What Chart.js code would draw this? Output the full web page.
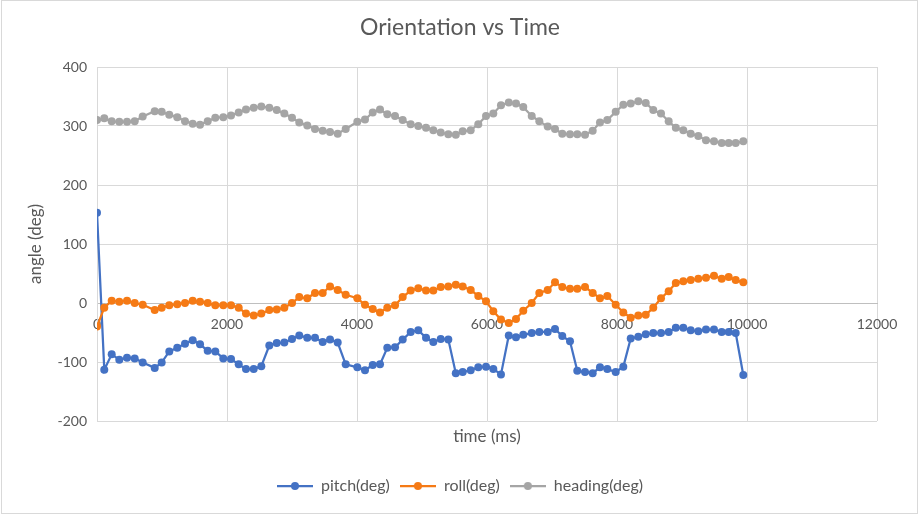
<!DOCTYPE html>
<html>
<head>
<meta charset="utf-8">
<script src="https://cdn.jsdelivr.net/npm/chart.js@4.4.0/dist/chart.umd.min.js"></script>
<style>
html,body{margin:0;padding:0;background:#fff;}
#wrap{width:920px;height:515px;position:relative;}
</style>
</head>
<body>
<div id="wrap"><canvas id="c"></canvas></div>
<script>
// ---- data ----
const timeMs = [0,112,226,343,462,580,703,888,995,1112,
  1235,1354,1472,1585,1703,1820,1943,2062,2180,2292,
  2411,2528,2651,2765,2882,3000,3112,3235,3354,3472,
  3585,3703,3826,4005,4123,4242,4354,4466,4585,4703,
  4826,4943,5062,5174,5288,5405,5520,5626,5749,5866,
  5985,6097,6215,6335,6446,6558,6688,6805,6934,7046,
  7158,7277,7389,7508,7626,7738,7851,7980,8097,8211,
  8328,8442,8558,8677,8795,8905,9020,9134,9251,9369,
  9492,9611,9718,9826,9943];
const pitchDeg = [153,-113,-87,-96,-93,-94,-101,-110,-101,-82,
  -76,-69,-63,-70,-81,-82,-94,-95,-104,-112,
  -112,-107,-72,-68,-67,-61,-55,-59,-59,-66,
  -62,-67,-104,-109,-114,-105,-104,-76,-75,-62,
  -49,-46,-59,-66,-61,-62,-119,-117,-114,-109,
  -108,-112,-121,-55,-58,-54,-51,-49,-49,-44,
  -56,-65,-115,-117,-119,-109,-112,-117,-108,-60,
  -57,-53,-51,-51,-49,-42,-42,-46,-48,-45,
  -45,-49,-49,-51,-122];
const rollDeg = [-40,-8,4,2,4,0,-3,-12,-8,-4,
  -2,0,4,2,0,-4,-4,-4,-8,-18,
  -21,-18,-12,-11,-8,0,10,8,17,17,
  28,22,14,8,-3,-10,-16,-8,-4,10,
  21,25,21,21,27,28,31,28,22,12,
  3,-14,-28,-34,-27,-13,0,17,22,35,
  27,24,24,27,17,8,12,-3,-16,-25,
  -21,-20,-8,8,20,34,37,39,41,43,
  46,41,44,39,35];
const headingDeg = [310,313,308,307,307,308,316,325,324,319,
  315,308,304,302,308,314,315,318,323,328,
  331,333,331,327,321,314,306,301,295,292,
  290,287,295,307,311,323,328,320,317,310,
  303,300,297,293,289,286,285,291,293,303,
  317,321,335,340,338,332,317,308,299,295,
  287,286,286,285,292,306,310,324,336,338,
  342,339,327,321,308,297,293,287,283,276,
  274,271,271,271,274];
const seriesNames = ['pitch(deg)', 'roll(deg)', 'heading(deg)'];
const seriesValues = [pitchDeg, rollDeg, headingDeg];
const chartTitle = 'Orientation vs Time';
const xTitle = 'time (ms)';
const yTitle = 'angle (deg)';
const xRange = [0, 12000, 2000];
const yRange = [-200, 400, 100];

// ---- styles ----
const seriesColors = ['#4472C4', '#F57A15', '#A5A5A5'];
const textColor = '#595959';
const gridColor = '#d9d9d9';
const FONT = 'Lato';

function marker(color) {
  const c = document.createElement('canvas');
  c.width = 36; c.height = 10;
  const g = c.getContext('2d');
  g.strokeStyle = color; g.lineWidth = 2.25;
  g.beginPath(); g.moveTo(0, 5); g.lineTo(36, 5); g.stroke();
  g.fillStyle = color;
  g.beginPath(); g.arc(18, 5, 4, 0, Math.PI * 2); g.fill();
  return c;
}
const markers = seriesColors.map(marker);

const framePlugin = {
  id: 'frame',
  beforeDraw(chart) {
    const ctx = chart.ctx;
    ctx.save();
    ctx.fillStyle = '#fff';
    ctx.fillRect(0, 0, chart.width, chart.height);
    ctx.strokeStyle = '#d9d9d9';
    ctx.lineWidth = 1;
    ctx.strokeRect(1.5, 0.5, 916, 513);
    ctx.restore();
  }
};

const datasets = seriesNames.map((name, k) => ({
  label: name,
  data: timeMs.map((t, i) => ({x: t, y: seriesValues[k][i]})),
  borderColor: seriesColors[k],
  backgroundColor: seriesColors[k],
  borderWidth: 2.25,
  pointRadius: 4,
  pointBorderWidth: 0,
  pointBackgroundColor: seriesColors[k],
  pointBorderColor: seriesColors[k],
  tension: 0,
  xAxisID: 'x',
  yAxisID: 'y',
  order: 3 - k
}));

new Chart(document.getElementById('c'), {
  type: 'line',
  data: {datasets},
  plugins: [framePlugin],
  options: {
    responsive: true,
    maintainAspectRatio: false,
    animation: false,
    layout: {padding: {left: 20, right: 20, top: 0, bottom: 11}},
    plugins: {
      tooltip: {enabled: false},
      title: {
        display: true, text: chartTitle, color: textColor,
        font: {family: FONT, size: 23, weight: 'normal'},
        padding: {top: 14.2, bottom: 25.2}
      },
      legend: {
        display: true, position: 'bottom',
        labels: {
          usePointStyle: true, pointStyleWidth: 36, boxHeight: 10,
          padding: 10, color: textColor,
          font: {family: FONT, size: 16},
          generateLabels(chart) {
            return chart.data.datasets.map((ds, i) => ({
              text: ds.label, fillStyle: seriesColors[i], strokeStyle: seriesColors[i],
              lineWidth: 0, pointStyle: markers[i], datasetIndex: i, hidden: false,
              fontColor: textColor
            }));
          }
        }
      }
    },
    scales: {
      x: {
        type: 'linear', position: 'bottom', min: xRange[0], max: xRange[1],
        ticks: {display: false, stepSize: xRange[2]},
        grid: {color: gridColor, drawTicks: false},
        border: {display: false},
        title: {display: true, text: xTitle, color: textColor,
          font: {family: FONT, size: 17}, padding: {top: 0, bottom: 20.8}},
        afterFit(s) { s.height = 47; }
      },
      x2: {
        type: 'linear', position: {y: 0}, min: xRange[0], max: xRange[1],
        ticks: {stepSize: xRange[2], color: textColor, font: {family: FONT, size: 14},
          padding: 13, maxRotation: 0, autoSkip: false, callback: v => String(v)},
        grid: {display: false, drawTicks: false},
        border: {display: true, color: '#bfbfbf', width: 1}
      },
      y: {
        type: 'linear', position: 'left', min: yRange[0], max: yRange[1],
        ticks: {stepSize: yRange[2], color: textColor, font: {family: FONT, size: 14},
          padding: 10, callback: v => String(v)},
        grid: {color: gridColor, drawTicks: false},
        border: {color: gridColor},
        title: {display: true, text: yTitle, color: textColor,
          font: {family: FONT, size: 17}, padding: {top: 5.8, bottom: 0}},
        afterFit(s) { s.width = 77; }
      },
      y2: {
        type: 'linear', position: 'right', display: true,
        ticks: {display: false},
        grid: {display: false, drawTicks: false},
        border: {display: false},
        afterFit(s) { s.width = 23; }
      }
    }
  }
});
</script>
</body>
</html>
